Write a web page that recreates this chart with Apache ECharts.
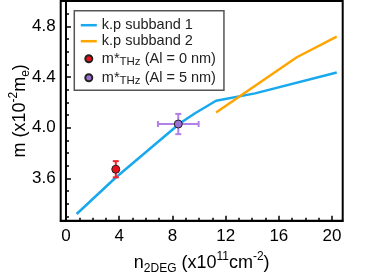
<!DOCTYPE html>
<html><head><meta charset="utf-8">
<script src="https://cdn.jsdelivr.net/npm/echarts@6/dist/echarts.min.js"></script>
<style>html,body{margin:0;padding:0;background:#fff}#c{width:382px;height:274px}</style>
</head><body><div id="c"></div>
<script>
// Data
const band1X = [0.8, 3.68, 8.57, 9.7, 11.28, 14.21, 20.35];
const band1Y = [3.319, 3.601, 4.035, 4.114, 4.213, 4.271, 4.435];
const band2X = [11.28, 17.35, 20.35];
const band2Y = [4.12, 4.556, 4.718];
const thz0X = [3.74];
const thz0Y = [3.672];
const thz0XErr = [0];
const thz0YErr = [0.064];
const thz5X = [8.44];
const thz5Y = [4.029];
const thz5XErr = [1.53];
const thz5YErr = [0.08];
const xMinorTicks = [0,1,2,3,4,5,6,7,8,9,10,11,12,13,14,15,16,17,18,19,20];
const xLabels = [0,4,8,12,16,20];
const yMinorTicks = [3.3,3.4,3.5,3.6,3.7,3.8,3.9,4.0,4.1,4.2,4.3,4.4,4.5,4.6,4.7,4.8,4.9,5.0];
const yLabels = [3.6,4.0,4.4,4.8];
const seriesNames = ['k.p subband 1','k.p subband 2','m*THz (Al = 0 nm)','m*THz (Al = 5 nm)'];

const FONT = 'Liberation Sans, Arial, sans-serif';
const BLUE = '#18a8ee', ORANGE = '#ffa500', RED = '#e8101c', PURPLE = '#9a6fd6', PURPLE_ERR = '#b47fe6', RED_ERR = '#f0202a';
const LINE_ICON = 'path://M0,0H32V5H0Z';

const zip = (xs, ys) => xs.map((x, i) => [x, ys[i]]);
const zipErr = (xs, ys, ex, ey) => xs.map((x, i) => [x, ys[i], ex[i], ey[i]]);

function errRender(color) {
  return function (params, api) {
    const x = api.value(0), y = api.value(1), ex = api.value(2), ey = api.value(3);
    const children = [];
    const style = { stroke: color, lineWidth: 2 };
    const cap = 3;
    if (ey > 0) {
      const top = api.coord([x, y + ey]), bot = api.coord([x, y - ey]);
      children.push({ type: 'line', shape: { x1: top[0], y1: top[1], x2: bot[0], y2: bot[1] }, style });
      children.push({ type: 'line', shape: { x1: top[0] - cap, y1: top[1], x2: top[0] + cap, y2: top[1] }, style });
      children.push({ type: 'line', shape: { x1: bot[0] - cap, y1: bot[1], x2: bot[0] + cap, y2: bot[1] }, style });
    }
    if (ex > 0) {
      const l = api.coord([x - ex, y]), r = api.coord([x + ex, y]);
      children.push({ type: 'line', shape: { x1: l[0], y1: l[1], x2: r[0], y2: r[1] }, style });
      children.push({ type: 'line', shape: { x1: l[0], y1: l[1] - cap, x2: l[0], y2: l[1] + cap }, style });
      children.push({ type: 'line', shape: { x1: r[0], y1: r[1] - cap, x2: r[0], y2: r[1] + cap }, style });
    }
    return { type: 'group', children };
  };
}

const xRange = { min: -0.4, max: 20.8 };
const yRange = { min: 3.266, max: 5.0 };
const titleStyle = {
  fontFamily: FONT, fontSize: 18, color: '#000', lineHeight: 24,
  rich: {
    sub: { fontFamily: FONT, fontSize: 12, color: '#000', verticalAlign: 'bottom', lineHeight: 24 },
    sup: { fontFamily: FONT, fontSize: 12, color: '#000', verticalAlign: 'top', lineHeight: 24 }
  }
};

const chart = echarts.init(document.getElementById('c'), null, { renderer: 'canvas' });
chart.setOption({
  animation: false,
  backgroundColor: '#fff',
  textStyle: { fontFamily: FONT },
  grid: { left: 60.7, right: 39.3, top: 1, bottom: 53.3, show: true, borderColor: '#000', borderWidth: 2, containLabel: false, outerBoundsMode: 'none' },
  legend: {
    data: [
      { name: seriesNames[0], icon: LINE_ICON },
      { name: seriesNames[1], icon: LINE_ICON },
      { name: seriesNames[2], icon: 'circle' },
      { name: seriesNames[3], icon: 'circle' }
    ],
    orient: 'vertical',
    left: 74.3, top: 10.7,
    padding: [6.5, 8, 3, 6.5],
    itemGap: 0,
    itemWidth: 16, itemHeight: 7,
    itemTextGap: 7,
    symbolKeepAspect: true,
    borderColor: '#555', borderWidth: 1.5,
    backgroundColor: '#fff',
    formatter: n => n.replace('THz', '{sub|THz}'),
    textStyle: {
      fontFamily: FONT, fontSize: 14.5, color: '#222', lineHeight: 16,
      rich: { sub: { fontFamily: FONT, fontSize: 11.5, color: '#222', verticalAlign: 'bottom', lineHeight: 19 } }
    }
  },
  xAxis: [
    {
      type: 'value', ...xRange, position: 'bottom',
      axisLine: { show: true, lineStyle: { color: '#000', width: 2 } },
      axisTick: { show: true, inside: true, length: 5, lineStyle: { color: '#000', width: 1.5 }, customValues: xLabels },
      axisLabel: { show: true, customValues: xLabels, fontFamily: FONT, fontSize: 17, color: '#000', margin: 7 },
      splitLine: { show: false },
      name: 'n{sub|2DEG} (x10{sup|11}cm{sup|-2})',
      nameLocation: 'middle', nameGap: 30, nameMoveOverlap: false,
      nameTextStyle: titleStyle
    },
    {
      type: 'value', ...xRange, position: 'bottom', offset: 0,
      axisLine: { show: false },
      axisTick: { show: true, inside: true, length: 3, lineStyle: { color: '#000', width: 1.5 }, customValues: xMinorTicks },
      axisLabel: { show: false },
      splitLine: { show: false }
    }
  ],
  yAxis: [
    {
      type: 'value', ...yRange, position: 'left',
      axisLine: { show: true, lineStyle: { color: '#000', width: 2 } },
      axisTick: { show: true, inside: true, length: 5, lineStyle: { color: '#000', width: 1.5 }, customValues: yLabels },
      axisLabel: { show: true, customValues: yLabels, fontFamily: FONT, fontSize: 17, color: '#000', margin: 5, formatter: v => v.toFixed(1) },
      splitLine: { show: false },
      name: 'm (x10{sup|-2}m{sub|e})',
      nameLocation: 'middle', nameGap: 29, nameMoveOverlap: false,
      nameTextStyle: titleStyle
    },
    {
      type: 'value', ...yRange, position: 'left', offset: 0,
      axisLine: { show: false },
      axisTick: { show: true, inside: true, length: 3, lineStyle: { color: '#000', width: 1.5 }, customValues: yMinorTicks },
      axisLabel: { show: false },
      splitLine: { show: false }
    }
  ],
  series: [
    { name: seriesNames[0], type: 'line', data: zip(band1X, band1Y), symbol: 'none', lineStyle: { color: BLUE, width: 2.5 }, itemStyle: { color: BLUE }, z: 2 },
    { name: seriesNames[1], type: 'line', data: zip(band2X, band2Y), symbol: 'none', lineStyle: { color: ORANGE, width: 2.5 }, itemStyle: { color: ORANGE }, z: 2 },
    { name: 'err0', type: 'custom', data: zipErr(thz0X, thz0Y, thz0XErr, thz0YErr), renderItem: errRender(RED_ERR), z: 3 },
    { name: 'err5', type: 'custom', data: zipErr(thz5X, thz5Y, thz5XErr, thz5YErr), renderItem: errRender(PURPLE_ERR), z: 3 },
    { name: seriesNames[2], type: 'scatter', data: zip(thz0X, thz0Y), symbol: 'circle', symbolSize: 8, itemStyle: { color: RED, borderColor: '#222', borderWidth: 1, opacity: 1 }, z: 4 },
    { name: seriesNames[3], type: 'scatter', data: zip(thz5X, thz5Y), symbol: 'circle', symbolSize: 8, itemStyle: { color: PURPLE, borderColor: '#222', borderWidth: 1, opacity: 1 }, z: 4 }
  ]
});
</script>
</body></html>
